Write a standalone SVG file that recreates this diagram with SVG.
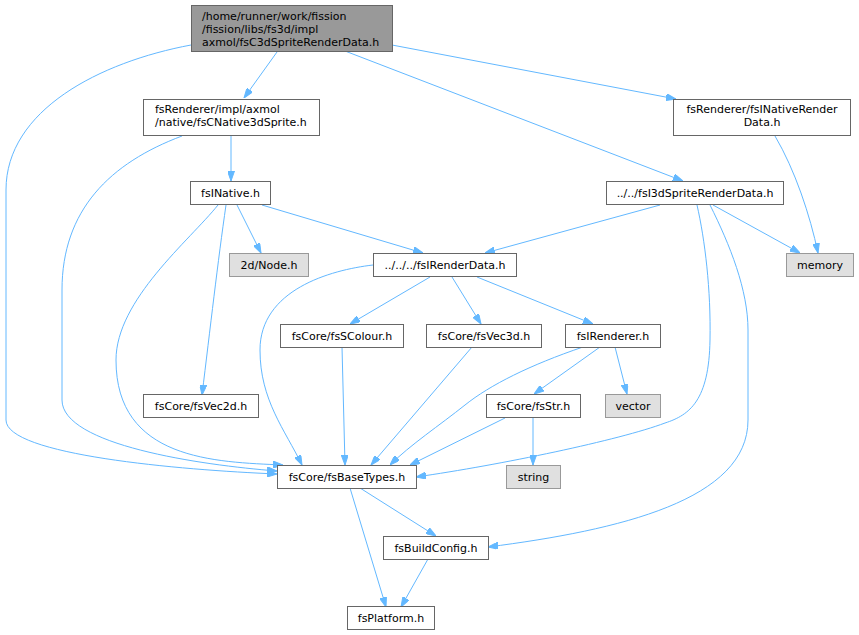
<svg xmlns="http://www.w3.org/2000/svg" width="859" height="635" viewBox="0 0 859 635">
<style>
  .n rect { fill: #ffffff; stroke: #666666; stroke-width: 1; }
  .n.root rect { fill: #999999; stroke: #666666; }
  .n.ext rect { fill: #e0e0e0; stroke: #999999; }
  text { font-family: "DejaVu Sans", "Liberation Sans", sans-serif; font-size: 11px; fill: #000000; }
  .c { text-anchor: middle; }
  .e path { fill: none; stroke: #63b8ff; stroke-width: 1; marker-end: url(#ah); }
</style>
<defs>
  <marker id="ah" viewBox="0 0 10 7" refX="10" refY="3.5" markerWidth="10" markerHeight="7" orient="auto" markerUnits="userSpaceOnUse">
    <path d="M0,0 L10,3.5 L0,7 z" fill="#63b8ff" stroke="#63b8ff"/>
  </marker>
</defs>
<rect width="859" height="635" fill="#ffffff"/>
<g id="edges" class="e">
  <path d="M191,45 C100,62 6,110 6,190 L6,420 C6,455 180,470 277,474"/>
  <path d="M277,52 L244,98"/>
  <path d="M345,51 L683,181"/>
  <path d="M392,45 L676,99"/>
  <path d="M231,136 L231,181"/>
  <path d="M182,136 C110,163 62,210 62,290 L62,400 C62,445 200,465 277,471"/>
  <path d="M237,205 L261,253"/>
  <path d="M262,205 L423,253"/>
  <path d="M226,205 C218,260 210,330 202,395"/>
  <path d="M218,205 C190,240 116,300 116,360 C116,460 215,462 283,465"/>
  <path d="M373,265 C330,270 260,290 260,350 C260,400 285,430 302,465"/>
  <path d="M430,277 L350,324"/>
  <path d="M452,277 L481,324"/>
  <path d="M477,277 L593,324"/>
  <path d="M342,347 L345,465"/>
  <path d="M472,347 L371,465"/>
  <path d="M583,347 C530,365 490,385 465,405 C440,425 410,445 390,465"/>
  <path d="M600,347 L534,394"/>
  <path d="M615,347 L627,394"/>
  <path d="M505,418 L410,465"/>
  <path d="M533,418 L533,465"/>
  <path d="M660,205 L485,253"/>
  <path d="M713,205 L800,253"/>
  <path d="M697,205 C705,240 711,290 710,340 C709,400 690,415 665,423 C620,440 500,465 416,477"/>
  <path d="M710,205 C730,245 748,290 748,330 L748,420 C748,500 620,530 488,547"/>
  <path d="M775,136 C795,170 810,215 818,253"/>
  <path d="M360,488 L436,536"/>
  <path d="M350,488 L386,607"/>
  <path d="M428,559 L401,607"/>
</g>
<g id="root" class="n root"><rect x="191.5" y="5.5" width="201" height="46"/>
  <text x="202" y="20">/home/runner/work/fission</text>
  <text x="202" y="33">/fission/libs/fs3d/impl</text>
  <text x="202" y="46">axmol/fsC3dSpriteRenderData.h</text></g>
<g id="n_cnative" class="n"><rect x="143.5" y="99.5" width="176" height="36"/>
  <text x="155" y="113">fsRenderer/impl/axmol</text>
  <text x="155" y="126">/native/fsCNative3dSprite.h</text></g>
<g id="n_inativerender" class="n"><rect x="673.5" y="99.5" width="177" height="36"/>
  <text class="c" x="762" y="113">fsRenderer/fsINativeRender</text>
  <text class="c" x="762" y="126">Data.h</text></g>
<g id="n_inative" class="n"><rect x="190.5" y="181.5" width="80" height="23"/>
  <text class="c" x="230.5" y="197">fsINative.h</text></g>
<g id="n_i3dsprite" class="n"><rect x="606.5" y="181.5" width="177" height="23"/>
  <text class="c" x="695" y="197">../../fsI3dSpriteRenderData.h</text></g>
<g id="n_node" class="n ext"><rect x="229.5" y="253.5" width="79" height="23"/>
  <text class="c" x="269" y="269">2d/Node.h</text></g>
<g id="n_memory" class="n ext"><rect x="786.5" y="253.5" width="67" height="23"/>
  <text class="c" x="820" y="269">memory</text></g>
<g id="n_irenderdata" class="n"><rect x="373.5" y="253.5" width="143" height="23"/>
  <text class="c" x="445" y="269">../../../fsIRenderData.h</text></g>
<g id="n_scolour" class="n"><rect x="280.5" y="324.5" width="123" height="23"/>
  <text class="c" x="342" y="340">fsCore/fsSColour.h</text></g>
<g id="n_vec3d" class="n"><rect x="426.5" y="324.5" width="115" height="23"/>
  <text class="c" x="484" y="340">fsCore/fsVec3d.h</text></g>
<g id="n_irenderer" class="n"><rect x="565.5" y="324.5" width="95" height="23"/>
  <text class="c" x="613" y="340">fsIRenderer.h</text></g>
<g id="n_vec2d" class="n"><rect x="143.5" y="394.5" width="115" height="23"/>
  <text class="c" x="201" y="410">fsCore/fsVec2d.h</text></g>
<g id="n_str" class="n"><rect x="486.5" y="394.5" width="94" height="23"/>
  <text class="c" x="533.5" y="410">fsCore/fsStr.h</text></g>
<g id="n_vector" class="n ext"><rect x="605.5" y="394.5" width="55" height="23"/>
  <text class="c" x="633" y="410">vector</text></g>
<g id="n_string" class="n ext"><rect x="506.5" y="465.5" width="54" height="23"/>
  <text class="c" x="533.5" y="481">string</text></g>
<g id="n_basetypes" class="n"><rect x="277.5" y="465.5" width="139" height="23"/>
  <text class="c" x="347" y="481">fsCore/fsBaseTypes.h</text></g>
<g id="n_buildconfig" class="n"><rect x="383.5" y="536.5" width="105" height="23"/>
  <text class="c" x="436" y="552">fsBuildConfig.h</text></g>
<g id="n_platform" class="n"><rect x="347.5" y="606.5" width="87" height="23"/>
  <text class="c" x="391" y="622">fsPlatform.h</text></g>
</svg>
